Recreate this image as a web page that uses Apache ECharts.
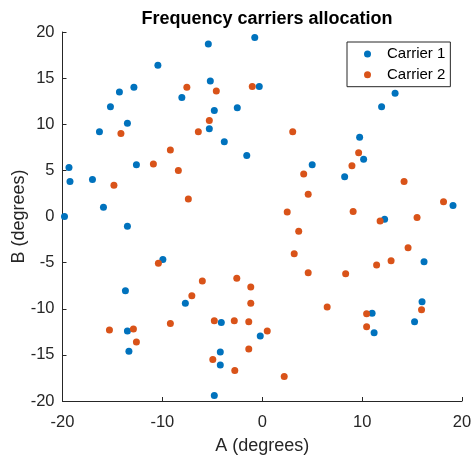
<!DOCTYPE html>
<html>
<head>
<meta charset="utf-8">
<script src="https://cdn.jsdelivr.net/npm/echarts@6/dist/echarts.min.js"></script>
<style>
  html, body { margin: 0; padding: 0; background: #fff; }
  #chart { width: 473px; height: 456px; }
</style>
</head>
<body>
<div id="chart"></div>
<script>
// Carrier positions in the (A, B) angular plane, degrees
const carrier1A = [-0.75, -5.4, -10.45, -5.2, -12.85, -14.3, -0.3, -8.05, -15.2, -4.8, -2.5, -13.5, -16.3, -5.3, -3.8, -1.55, -12.6, -19.35, -19.25, -17.0, -15.9, -19.8,
  13.3, 11.95, 9.75, 10.15, 5.0, 8.25, 19.1,
  -13.5, -9.95, -13.7, -7.7, -13.5, -4.1, -0.2, -13.35, -4.2, -4.2, -4.8,
  12.25, 16.2, 16.0, 11.0, 15.25, 11.2];
const carrier1B = [19.4, 18.7, 16.4, 14.7, 14.0, 13.5, 14.1, 12.9, 11.9, 11.5, 11.8, 10.1, 9.2, 9.5, 8.1, 6.6, 5.6, 5.3, 3.8, 4.0, 1.0, 0.0,
  13.35, 11.9, 8.6, 6.2, 5.6, 4.3, 1.2,
  -1.06, -4.67, -8.05, -9.4, -12.4, -11.5, -12.95, -14.6, -14.7, -16.1, -19.4,
  -0.3, -4.9, -9.25, -10.5, -11.4, -12.6];

const carrier2A = [-7.55, -4.6, -1.0, -5.3, -14.15, -6.4, -9.2, -10.9, -8.4, -14.85, -7.4,
  3.05, 9.65, 8.98, 4.15, 14.2, 4.6, 18.15, 2.5, 9.1,
  -10.4, -2.55, -6.0, -1.15, -7.05, -1.15, -9.2, -4.8, -2.8, -1.35, -15.3, -12.9, -12.6, -1.35, -4.95, -2.75,
  11.8, 15.5, 3.65, 14.6, 3.2, 12.9, 11.45, 4.6, 8.35, 6.5, 10.45, 15.95, 10.45, 0.5, 2.2];
const carrier2B = [14.0, 13.6, 14.1, 10.4, 9.0, 9.2, 7.2, 5.7, 5.0, 3.4, 1.9,
  9.2, 6.9, 5.5, 4.6, 3.8, 2.4, 1.6, 0.5, 0.55,
  -5.07, -6.7, -7.0, -7.65, -8.6, -9.4, -11.6, -11.3, -11.3, -11.4, -12.3, -12.2, -13.6, -14.35, -15.5, -16.7,
  -0.5, -0.1, -1.6, -3.4, -4.05, -4.8, -5.25, -6.1, -6.2, -9.8, -10.55, -10.1, -11.95, -12.4, -17.35];

const seriesNames = ['Carrier 1', 'Carrier 2'];
const axisNames = ['A (degrees)', 'B (degrees)'];
const chartTitle = 'Frequency carriers allocation';

const pairs = (xs, ys) => xs.map((x, i) => [x, ys[i]]);

const FONT = '"Liberation Sans", Arial, Helvetica, sans-serif';
const INK = '#262626';

const axisCommon = {
  nameLocation: 'middle',
  nameMoveOverlap: false,
  nameTextStyle: { fontFamily: FONT, fontSize: 18, color: INK },
  axisLine: { show: true, onZero: false, lineStyle: { color: INK, width: 1 } },
  axisTick: { show: true, inside: true, length: 4, lineStyle: { color: INK } },
  axisLabel: { fontFamily: FONT, fontSize: 16.5, color: INK },
  splitLine: { show: false }
};

const chart = echarts.init(document.getElementById('chart'), null, { renderer: 'canvas' });
chart.setOption({
  animation: false,
  backgroundColor: '#ffffff',
  title: {
    text: chartTitle,
    left: 262, top: 5, textAlign: 'center',
    textStyle: { fontFamily: FONT, fontSize: 18, fontWeight: 'bold', color: '#000' }
  },
  grid: { left: 62.5, right: 11, top: 32, bottom: 55, containLabel: false, outerBoundsMode: 'none' },
  legend: {
    orient: 'vertical',
    left: 347, top: 42,
    padding: [4.5, 5, 4.5, 17],
    itemGap: 5.7,
    itemWidth: 7, itemHeight: 7,
    backgroundColor: '#fff',
    borderColor: INK, borderWidth: 1, borderRadius: 0,
    textStyle: { fontFamily: FONT, fontSize: 15, color: '#000', padding: [0, 0, 0, 11] },
    data: seriesNames.map(n => ({ name: n, icon: 'circle' }))
  },
  xAxis: Object.assign({}, axisCommon, {
    type: 'value', min: -20, max: 20, interval: 10,
    name: axisNames[0], nameGap: 36,
    axisLabel: Object.assign({}, axisCommon.axisLabel, { margin: 13 })
  }),
  yAxis: Object.assign({}, axisCommon, {
    type: 'value', min: -20, max: 20, interval: 5,
    name: axisNames[1], nameGap: 34,
    axisLabel: Object.assign({}, axisCommon.axisLabel, { margin: 8 })
  }),
  series: [
    { name: seriesNames[0], type: 'scatter', symbol: 'circle', symbolSize: 7,
      itemStyle: { color: '#0072BD', opacity: 1 }, data: pairs(carrier1A, carrier1B) },
    { name: seriesNames[1], type: 'scatter', symbol: 'circle', symbolSize: 7,
      itemStyle: { color: '#D95319', opacity: 1 }, data: pairs(carrier2A, carrier2B) }
  ]
});
</script>
</body>
</html>
